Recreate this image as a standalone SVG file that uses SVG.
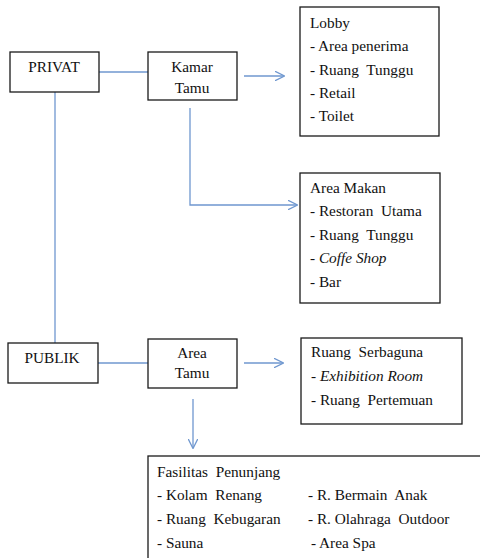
<svg xmlns="http://www.w3.org/2000/svg" width="480" height="558" viewBox="0 0 480 558">
<style>
.box{fill:#fff;stroke:#1a1a1a;stroke-width:1.3}
text{font-family:'Liberation Serif','Times New Roman',Times,serif;font-size:15.3px;fill:#111;white-space:pre}
.c{text-anchor:middle}
.i{font-style:italic}
.ln{fill:none;stroke:#6f97cf;stroke-width:1.3}
</style>
<defs>
<marker id="ah" viewBox="0 0 10 10" refX="9.5" refY="5" markerWidth="10" markerHeight="10" markerUnits="userSpaceOnUse" orient="auto">
<path d="M0,0 L10,5 L0,10" fill="none" stroke="#6f97cf" stroke-width="1.3"/>
</marker>
</defs>
<rect width="480" height="558" fill="#fff"/>
<g id="connectors">
<line class="ln" x1="99" y1="72" x2="148" y2="72"/>
<line class="ln" x1="244" y1="76" x2="284" y2="76" marker-end="url(#ah)"/>
<line class="ln" x1="55" y1="92" x2="55" y2="343"/>
<polyline class="ln" points="190,108 190,205 297,205" marker-end="url(#ah)"/>
<line class="ln" x1="98" y1="363" x2="148" y2="363"/>
<line class="ln" x1="244" y1="363" x2="283" y2="363" marker-end="url(#ah)"/>
<line class="ln" x1="193" y1="399" x2="193" y2="448" marker-end="url(#ah)"/>
</g>
<g id="privat">
<rect class="box" x="10" y="52" width="89" height="40"/>
<text class="c" x="54" y="72">PRIVAT</text>
</g>
<g id="kamar-tamu">
<rect class="box" x="148" y="52" width="89" height="48"/>
<text class="c" x="192" y="72">Kamar</text>
<text class="c" x="192" y="93">Tamu</text>
</g>
<g id="lobby">
<rect class="box" x="300" y="7" width="139" height="129"/>
<text x="310" y="28">Lobby</text>
<text x="310" y="51">- Area penerima</text>
<text x="310" y="75" xml:space="preserve">- Ruang  Tunggu</text>
<text x="310" y="98">- Retail</text>
<text x="310" y="121">- Toilet</text>
</g>
<g id="area-makan">
<rect class="box" x="300" y="173" width="140" height="130"/>
<text x="310" y="193">Area Makan</text>
<text x="310" y="216" xml:space="preserve">- Restoran  Utama</text>
<text x="310" y="240" xml:space="preserve">- Ruang  Tunggu</text>
<text x="310" y="263">- <tspan class="i">Coffe Shop</tspan></text>
<text x="310" y="287">- Bar</text>
</g>
<g id="publik">
<rect class="box" x="8" y="343" width="90" height="40"/>
<text class="c" x="52" y="363">PUBLIK</text>
</g>
<g id="area-tamu">
<rect class="box" x="148" y="339" width="89" height="49"/>
<text class="c" x="192" y="358">Area</text>
<text class="c" x="192" y="378">Tamu</text>
</g>
<g id="ruang-serbaguna">
<rect class="box" x="301" y="338" width="161" height="86"/>
<text x="311" y="357" xml:space="preserve">Ruang  Serbaguna</text>
<text x="311" y="381">- <tspan class="i">Exhibition Room</tspan></text>
<text x="311" y="405" xml:space="preserve">- Ruang  Pertemuan</text>
</g>
<g id="fasilitas-penunjang">
<rect class="box" x="148" y="456" width="345" height="120"/>
<text x="157" y="477" xml:space="preserve">Fasilitas  Penunjang</text>
<text x="157" y="500" xml:space="preserve">- Kolam  Renang</text>
<text x="157" y="524" xml:space="preserve">- Ruang  Kebugaran</text>
<text x="157" y="548">- Sauna</text>
<text x="308" y="500" xml:space="preserve">- R. Bermain  Anak</text>
<text x="308" y="524" xml:space="preserve">- R. Olahraga  Outdoor</text>
<text x="311" y="548">- Area Spa</text>
</g>
</svg>
